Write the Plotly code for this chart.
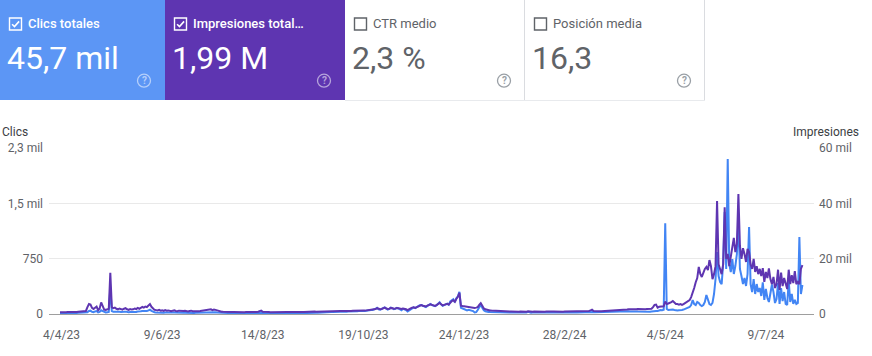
import plotly.graph_objects as go
import pandas as pd

# ---------------- data ----------------
START_DATE = "2023-04-03"

clicks = [
    # d0-17
    12, 10, 14, 13, 11, 15, 14, 12, 15, 16, 14, 15, 17, 18, 16, 20, 18, 22,
    # d18-34
    25, 40, 45, 30, 25, 35, 40, 22, 28, 50, 40, 24, 22, 25, 28, 350, 40,
    # d35-60
    30, 32, 28, 26, 30, 28, 25, 30, 32, 27, 24, 28, 26, 27, 30, 28, 33, 30, 36, 40, 36, 42, 40, 50, 58, 42,
    # d61-95
    30, 24, 22, 20, 22, 19, 20, 18, 21, 19, 20, 18, 17, 19, 20, 18, 17, 19, 18, 16, 17, 18, 16, 15, 17,
    18, 16, 15, 16, 17, 16, 17, 18, 17, 19,
    # d96-103
    22, 26, 24, 28, 22, 25, 23, 20,
    # d104-174
    18, 16, 15, 14, 13, 14, 12, 13, 14, 12,
    13, 12, 11, 12, 13, 12, 12, 11, 12, 11,
    11, 12, 13, 12, 13, 12, 14, 16, 20, 14,
    12, 11, 12, 11, 10, 11, 12, 11, 10, 11,
    12, 13, 12, 11, 12, 13, 12, 12, 13, 14,
    13, 12, 14, 15, 14, 13, 15, 16, 15, 17,
    16, 18, 22, 19, 17, 18, 20, 19, 21, 22, 24,
    # d175-204
    24, 26, 25, 28, 27, 30, 28, 26, 30, 32, 30, 28, 33, 32, 35, 34, 33, 36, 38, 40,
    38, 42, 45, 44, 42, 40, 46, 50, 48, 55,
    # d205-236
    55, 60, 70, 85, 62, 58, 65, 80, 90, 72,
    60, 68, 85, 78, 66, 70, 82, 75, 60, 50,
    70, 65, 55, 35, 50, 72, 85, 90, 80, 95, 105, 120,
    # d237-264
    122, 110, 100, 95, 110, 125, 135, 120, 115, 105,
    120, 140, 158, 130, 110, 120, 135, 140, 125, 170,
    185, 200, 160, 215, 240, 300, 85, 75,
    # d265-290
    65, 55, 50, 58, 52, 48, 40, 20, 25, 55,
    95, 125, 85, 50, 38, 30, 28, 26, 25, 24,
    22, 21, 22, 20, 21, 20,
    # d291-370
    20, 19, 21, 18, 20, 21, 19, 18, 20, 21,
    19, 20, 18, 19, 21, 22, 30, 20, 18, 19,
    20, 19, 18, 20, 21, 19, 18, 20, 21, 19,
    18, 19, 20, 21, 20, 19, 21, 22, 20, 19,
    21, 22, 23, 21, 22, 24, 22, 21, 22, 23,
    24, 23, 22, 24, 25, 26, 25, 27, 30, 26,
    24, 25, 24, 23, 25, 26, 24, 26, 27, 26,
    27, 28, 27, 29, 30, 31, 30, 32, 33, 34,
    # d371-396
    34, 35, 36, 35, 37, 36, 35, 34, 33, 32,
    31, 30, 31, 32, 30, 31, 32, 35, 40, 45,
    42, 40, 50, 55, 52, 58,
    # d397-487
    1229, 68, 55, 60, 55, 62, 55, 48, 48, 52,
    50, 55, 60, 68, 75, 82, 95, 122, 190, 135,
    122, 163, 150, 122, 108, 122, 163, 257, 176, 135,
    122, 150, 271, 474, 840, 515, 434, 406, 678, 1382,
    610, 2100, 678, 569, 745, 542, 650, 813, 1274, 610,
    515, 406, 488, 380, 542, 1179, 406, 298, 474, 271,
    406, 298, 352, 244, 430, 190, 339, 217, 163, 271,
    400, 298, 149, 203, 420, 136, 352, 176, 298, 136,
    122, 450, 163, 271, 136, 190, 136, 149, 1043, 271,
    393,
]

impressions = [
    # d0-17
    620, 580, 700, 650, 600, 720, 680, 640, 700, 750, 690, 720, 800, 850, 900, 1000, 950, 1100,
    # d18-34
    2500, 3600, 3400, 2200, 1800, 2400, 2700, 1400, 2000, 4200, 3000, 1600, 1500, 1700, 1900, 14900, 2400,
    # d35-60
    2100, 2300, 1900, 1700, 2000, 1800, 1600, 1900, 2100, 1700, 1500, 1800, 1600, 1700, 2000, 1800,
    2200, 1900, 2400, 2600, 2300, 2700, 2500, 3200, 3600, 2600,
    # d61-95
    1900, 1500, 1400, 1300, 1500, 1200, 1300, 1100, 1400, 1200, 1300, 1100, 1000, 1200, 1300, 1100,
    1000, 1200, 1100, 1000, 1050, 1150, 1000, 950, 1100, 1200, 1000, 950, 1050, 1100, 1000, 1050,
    1150, 1100, 1250,
    # d96-103
    1400, 1600, 1500, 1700, 1400, 1600, 1500, 1300,
    # d104-174
    1000, 900, 850, 800, 750, 800, 700, 750, 800, 700,
    750, 700, 650, 700, 750, 680, 720, 650, 700, 680,
    650, 700, 720, 680, 750, 700, 800, 950, 1200, 800,
    700, 650, 700, 680, 620, 650, 700, 660, 640, 680,
    700, 720, 680, 650, 700, 740, 700, 680, 720, 760,
    720, 700, 750, 780, 740, 700, 760, 800, 780, 820,
    800, 850, 1100, 900, 820, 850, 900, 880, 920, 950, 1000,
    # d175-204
    950, 980, 960, 1000, 1020, 1050, 1000, 980, 1060, 1100, 1050, 1020, 1100, 1120, 1150, 1100,
    1080, 1150, 1200, 1250, 1200, 1280, 1350, 1300, 1250, 1220, 1300, 1400, 1380, 1500,
    # d205-236
    1500, 1600, 1800, 2100, 1800, 1700, 1800, 2100, 2300, 2000,
    1800, 1900, 2200, 2100, 1900, 2000, 2200, 2100, 1900, 1800,
    2000, 1900, 1700, 1400, 1600, 2000, 2300, 2400, 2200, 2500, 2700, 3000,
    # d237-264
    3200, 3000, 2800, 2700, 3000, 3300, 3500, 3300, 3100, 2900,
    3200, 3600, 4000, 3500, 3100, 3300, 3600, 3700, 3400, 4300,
    4700, 5000, 4400, 5500, 6200, 7600, 3000, 2900,
    # d265-290
    2800, 2700, 2500, 2600, 2500, 2400, 2300, 2200, 2300, 2500,
    3300, 3900, 3000, 2000, 1700, 1500, 1400, 1300, 1250, 1200,
    1100, 1050, 1000, 1050, 1000, 950,
    # d291-370
    900, 850, 880, 820, 860, 900, 840, 800, 850, 880,
    820, 860, 800, 830, 870, 850, 950, 820, 800, 840,
    860, 820, 800, 850, 880, 830, 810, 850, 870, 820,
    800, 840, 860, 900, 850, 820, 880, 900, 860, 840,
    880, 900, 920, 870, 900, 950, 920, 880, 900, 940,
    960, 920, 900, 950, 980, 1000, 1100, 1300, 1550, 1100,
    1000, 1050, 1000, 980, 1020, 1050, 1000, 1080, 1100, 1050,
    1100, 1150, 1120, 1200, 1250, 1300, 1350, 1400, 1450, 1500,
    # d371-396
    1550, 1600, 1700, 1650, 1750, 1800, 1750, 1700, 1800, 1750,
    1700, 1650, 1750, 1700, 1800, 1750, 1700, 1900, 2500, 3300,
    3400, 2300, 2600, 2700, 2600, 2800,
    # d397-487
    4500, 3600, 3800, 4000, 4300, 4700, 4000, 3600, 3600, 3400,
    3600, 3300, 3600, 4000, 4300, 4500, 5000, 6100, 7600, 9400,
    11500, 13000, 17000, 14500, 13400, 15200, 16300, 17000, 15900, 19500,
    17300, 12600, 14400, 17300, 40800, 18000, 15900, 14400, 18000, 38600,
    19900, 21700, 17300, 21000, 25300, 27500, 22400, 25300, 43400, 24600,
    19900, 23800, 21700, 18800, 23500, 22400, 18000, 16300, 19900, 15200,
    17300, 14400, 16300, 13700, 16600, 11600, 15200, 13000, 16500, 12600,
    10800, 13400, 9400, 10800, 16000, 8700, 15000, 10100, 13000, 10800,
    9000, 16000, 10800, 14000, 11200, 15500, 10800, 11600, 10800, 16300,
    17700,
]

x_tick_dates = ["2023-04-04", "2023-06-09", "2023-08-14", "2023-10-19",
                "2023-12-24", "2024-02-28", "2024-05-04", "2024-07-09"]
x_tick_labels = ["4/4/23", "9/6/23", "14/8/23", "19/10/23",
                 "24/12/23", "28/2/24", "4/5/24", "9/7/24"]
clicks_ticks = [0, 750, 1500, 2250]
clicks_tick_labels = ["0", "750", "1,5 mil", "2,3 mil"]
impr_ticks = [0, 20000, 40000, 60000]
impr_tick_labels = ["0", "20 mil", "40 mil", "60 mil"]

card_titles = ["Clics totales", "Impresiones total…", "CTR medio", "Posición media"]
card_values = ["45,7 mil", "1,99 M", "2,3 %", "16,3"]
card_checked = [True, True, False, False]

# ---------------- styling ----------------
BLUE = "#4285f4"
PURPLE = "#5e35b1"
CARD_BLUE = "#5c96f5"
CARD_PURPLE = "#5e35b1"
GREY_TXT = "#5f6368"
FONT = "Roboto"

W, H = 872, 356
L, R, T, B = 49, 814, 148, 314  # plot area in pixels


def px(x):
    return (x - L) / (R - L)


def py(y):
    return (B - y) / (B - T)


assert len(clicks) == len(impressions)
dates = pd.date_range(START_DATE, periods=len(clicks), freq="D")
px_per_day = 1.5245
x0 = dates[0] - pd.Timedelta(days=(60 - L) / px_per_day)
x1 = dates[0] + pd.Timedelta(days=(R - 60) / px_per_day)

fig = go.Figure()
fig.add_trace(go.Scatter(x=dates, y=impressions, mode="lines", yaxis="y2",
                         line=dict(color=PURPLE, width=2), hoverinfo="skip",
                         name="Impresiones"))
fig.add_trace(go.Scatter(x=dates, y=clicks, mode="lines", yaxis="y",
                         line=dict(color=BLUE, width=2), hoverinfo="skip",
                         name="Clics"))

shapes = []
annotations = []

card_x = [(0, 165), (165, 345), (345, 525), (525, 705)]
for i, (cx0, cx1) in enumerate(card_x):
    checked = card_checked[i]
    if i == 0:
        fill = CARD_BLUE
    elif i == 1:
        fill = CARD_PURPLE
    else:
        fill = "white"
    shapes.append(dict(type="rect", xref="paper", yref="paper",
                       x0=px(cx0), x1=px(cx1), y0=py(100), y1=py(0),
                       fillcolor=fill, line=dict(width=0), layer="below"))
    if not checked:
        shapes.append(dict(type="line", xref="paper", yref="paper",
                           x0=px(cx1 - 0.5), x1=px(cx1 - 0.5), y0=py(100), y1=py(0),
                           line=dict(color="#dadce0", width=1)))
        shapes.append(dict(type="line", xref="paper", yref="paper",
                           x0=px(cx0), x1=px(cx1), y0=py(100.5), y1=py(100.5),
                           line=dict(color="#e8eaed", width=1)))
    fg = "white" if checked else GREY_TXT
    bx = cx0 + 9.5
    shapes.append(dict(type="rect", xref="paper", yref="paper",
                       x0=px(bx), x1=px(bx + 12), y0=py(30), y1=py(18),
                       line=dict(color=fg, width=1.4), fillcolor="rgba(0,0,0,0)"))
    if checked:
        path = "M {:.5f},{:.5f} L {:.5f},{:.5f} L {:.5f},{:.5f}".format(
            px(bx + 2.6), py(24.2), px(bx + 5.0), py(26.6), px(bx + 9.6), py(21.4))
        shapes.append(dict(type="path", xref="paper", yref="paper", path=path,
                           line=dict(color="white", width=1.6)))
    annotations.append(dict(x=px(cx0 + 25.5), y=py(23), xref="paper", yref="paper",
                            xanchor="left", yanchor="middle", showarrow=False,
                            text=card_titles[i],
                            font=dict(family=FONT, size=13, color=fg,
                                      weight=500 if checked else 400)))
    annotations.append(dict(x=px(cx0 + 5), y=py(58), xref="paper", yref="paper",
                            xanchor="left", yanchor="middle", showarrow=False,
                            text=card_values[i],
                            font=dict(family=FONT, size=32, color=fg, weight=400)))
    icx = cx1 - 21
    icol = "rgba(255,255,255,0.55)" if checked else "#9aa0a6"
    shapes.append(dict(type="circle", xref="paper", yref="paper",
                       x0=px(icx - 6.5), x1=px(icx + 6.5), y0=py(87.2), y1=py(74.2),
                       line=dict(color=icol, width=1.3)))
    annotations.append(dict(x=px(icx), y=py(80.9), xref="paper", yref="paper",
                            xanchor="center", yanchor="middle", showarrow=False,
                            text="?", font=dict(family=FONT, size=10, color=icol, weight=700)))

annotations.append(dict(x=px(0), y=py(131.5), xref="paper", yref="paper",
                        xanchor="left", yanchor="middle", showarrow=False,
                        text="Clics", font=dict(family=FONT, size=12, color="#3c4043")))
annotations.append(dict(x=px(861), y=py(131.5), xref="paper", yref="paper",
                        xanchor="right", yanchor="middle", showarrow=False,
                        text="Impresiones", font=dict(family=FONT, size=12, color="#3c4043")))

tickfont = dict(family=FONT, size=12, color=GREY_TXT)
fig.update_layout(
    width=W, height=H,
    margin=dict(l=L, r=W - R, t=T, b=H - B, pad=0, autoexpand=False),
    paper_bgcolor="white", plot_bgcolor="white",
    showlegend=False, hovermode=False,
    font=dict(family=FONT),
    xaxis=dict(range=[x0, x1], tickvals=x_tick_dates, ticktext=x_tick_labels,
               showgrid=False, zeroline=False, showline=False, ticks="",
               automargin=False,
               tickfont=tickfont, ticklabelstandoff=12, fixedrange=True),
    yaxis=dict(range=[0, 2250], tickvals=clicks_ticks, ticktext=clicks_tick_labels,
               showgrid=True, gridcolor="#e9e9e9", gridwidth=1,
               zeroline=True, zerolinecolor="#9e9e9e", zerolinewidth=1,
               automargin=False,
               showline=False, ticks="", tickfont=tickfont, ticklabelstandoff=5),
    yaxis2=dict(range=[0, 60000], tickvals=impr_ticks, ticktext=impr_tick_labels,
                overlaying="y", side="right", showgrid=False, zeroline=False,
                automargin=False,
                showline=False, ticks="", tickfont=tickfont, ticklabelstandoff=4),
    shapes=shapes,
    annotations=annotations,
)

fig.write_html("out.html", config={"displayModeBar": False},
               post_script="document.body.style.margin='0';document.body.style.overflow='hidden';")
